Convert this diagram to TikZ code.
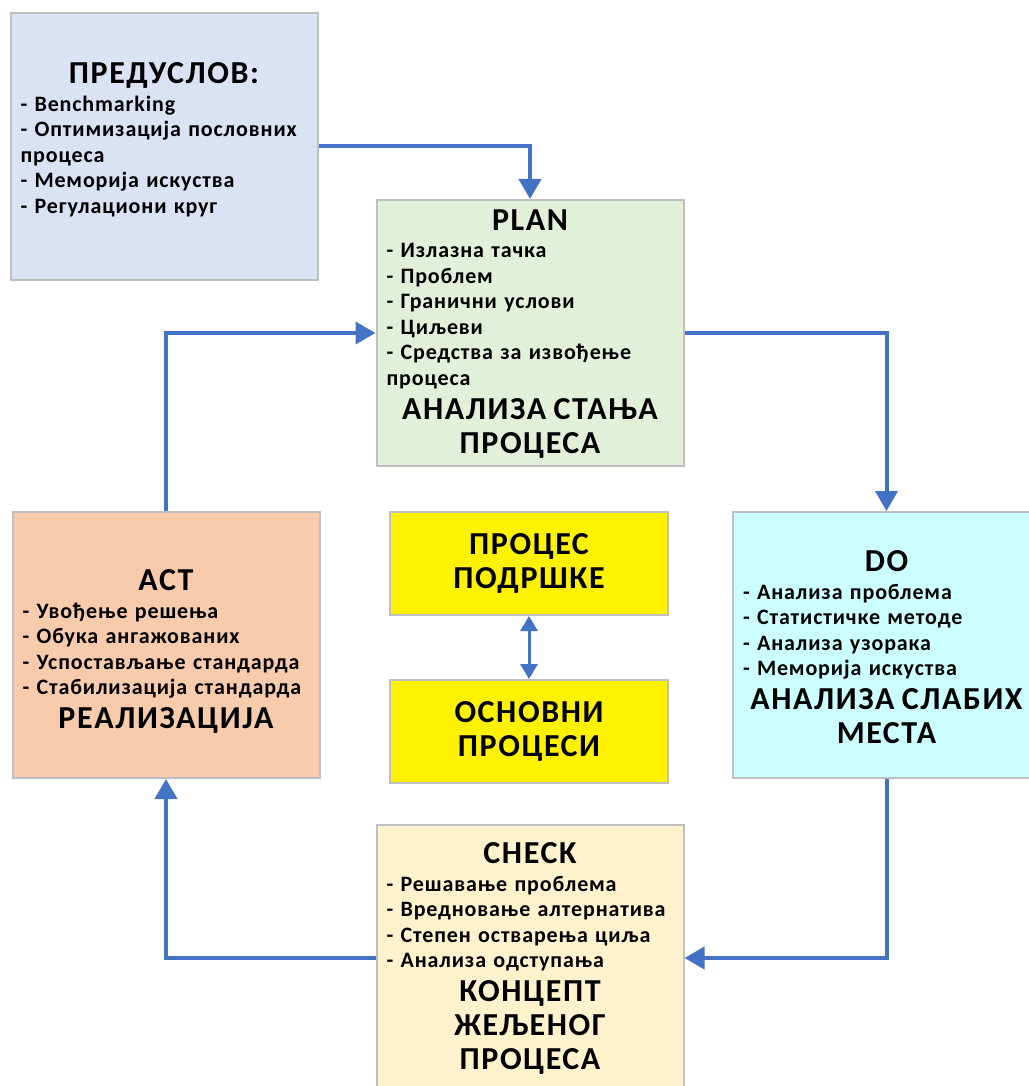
\documentclass[tikz,border=0pt]{standalone}
\usepackage{fontspec}
\setmainfont{Carlito}[LetterSpace=4]
\usepackage{xcolor}
\usetikzlibrary{arrows.meta}

\definecolor{preblue}{HTML}{DAE3F3}
\definecolor{plangreen}{HTML}{E2F0D9}
\definecolor{actorange}{HTML}{F8CBAD}
\definecolor{docyan}{HTML}{CCFFFF}
\definecolor{checkcream}{HTML}{FFF2CC}
\definecolor{boxgray}{HTML}{BFBFBF}
\definecolor{flowblue}{HTML}{4472C4}

\tikzset{
	stage/.style={draw=boxgray, line width=2pt, minimum width=307pt, minimum height=266pt,
		text width=287pt, inner xsep=10pt, inner ysep=0pt, align=left,
		font=\fontsize{22}{25.5}\selectfont\bfseries},
	procbox/.style={draw=boxgray, line width=2pt, fill=yellow, minimum width=278pt,
		minimum height=103pt, align=center,
		font=\fontsize{32}{34}\selectfont\bfseries\addfontfeatures{LetterSpace=5}},
	flow/.style={draw=flowblue, line width=4pt, -{Triangle[width=22pt,length=20pt]}},
	both/.style={draw=flowblue, line width=3pt,
		{Triangle[width=17pt,length=15pt]}-{Triangle[width=17pt,length=15pt]}}
}
\newcommand{\stagetitle}[1]{\par{\centering\fontsize{32}{34}\selectfont\addfontfeatures{LetterSpace=5}#1\par}\vspace{2pt}}
% pushes the text block a little up
\newcommand{\liftup}[1]{\par\vspace{#1}\mbox{}}

\begin{document}
\begin{tikzpicture}[x=1pt, y=-1pt]
	\useasboundingbox (0,0) rectangle (1028,1086);
	% the five stages
	\node[stage, fill=preblue, name=pre] at (164,146.5) {\stagetitle{ПРЕДУСЛОВ:}
		- Benchmarking\\- Оптимизација пословних\\процеса\\- Меморија искуства\\- Регулациони круг\liftup{4pt}};
	\node[stage, fill=plangreen, name=plan, inner ysep=-8pt] at (530,333) {\stagetitle{PLAN}
		- Излазна тачка\\- Проблем\\- Гранични услови\\- Циљеви\\- Средства за извођење\\процеса
		\stagetitle{АНАЛИЗА СТАЊА\\ПРОЦЕСА}\liftup{-11pt}};
	\node[stage, fill=docyan, name=do] at (886.5,645) {\stagetitle{DO}
		- Анализа проблема\\- Статистичке методе\\- Анализа узорака\\- Меморија искуства
		\stagetitle{АНАЛИЗА СЛАБИХ\\МЕСТА}\liftup{-19pt}};
	\node[stage, fill=checkcream, name=check] at (530,958) {\stagetitle{CHECK}
		- Решавање проблема\\- Вредновање алтернатива\\- Степен остварења циља\\- Анализа одступања
		\stagetitle{КОНЦЕПТ\\ЖЕЉЕНОГ\\ПРОЦЕСА}\liftup{-11pt}};
	\node[stage, fill=actorange, name=act] at (166,645) {\stagetitle{ACT}
		- Увођење решења\\- Обука ангажованих\\- Успостављање стандарда\\- Стабилизација стандарда
		\stagetitle{РЕАЛИЗАЦИЈА}};
	% centre
	\node[procbox, name=support] at (529,563.5) {ПРОЦЕС\\ПОДРШКЕ};
	\node[procbox, name=basic] at (529,731.5) {ОСНОВНИ\\ПРОЦЕСИ};
	% the cycle
	\draw[flow] (pre.east) -| (plan.north);
	\draw[flow] (plan.east) -| (do.north);
	\draw[flow] (do.south) |- (check.east);
	\draw[flow] (check.west) -| (act.south);
	\draw[flow] (act.north) |- (plan.west);
	\draw[both] (support) -- (basic);
\end{tikzpicture}
\end{document}
